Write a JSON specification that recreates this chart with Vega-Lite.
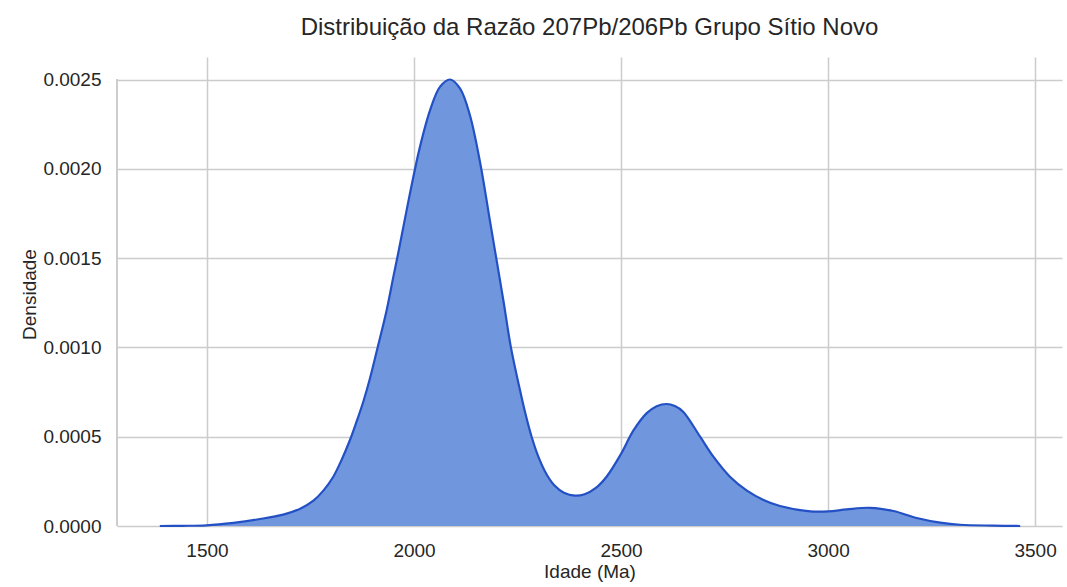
{
  "$schema": "https://vega.github.io/schema/vega-lite/v6.json",
  "autosize": "none",
  "width": 945,
  "height": 469,
  "padding": {"left": 117, "top": 57, "right": 5, "bottom": 61},
  "background": "white",
  "title": {
    "text": "Distribuição da Razão 207Pb/206Pb Grupo Sítio Novo",
    "font": "Liberation Sans",
    "fontSize": 24,
    "fontWeight": "normal",
    "color": "#262626",
    "anchor": "middle",
    "baseline": "alphabetic",
    "offset": -2
  },
  "data": {
    "values": [
      {"idade": 1386, "dens": 0},
      {"idade": 1440, "dens": 0.000001},
      {"idade": 1499, "dens": 0.000004},
      {"idade": 1564, "dens": 0.000018},
      {"idade": 1628, "dens": 0.000039},
      {"idade": 1684, "dens": 0.000064},
      {"idade": 1725, "dens": 0.000097},
      {"idade": 1757, "dens": 0.000142},
      {"idade": 1781, "dens": 0.000198},
      {"idade": 1805, "dens": 0.000276},
      {"idade": 1825, "dens": 0.00037},
      {"idade": 1845, "dens": 0.00048},
      {"idade": 1862, "dens": 0.00059},
      {"idade": 1878, "dens": 0.0007},
      {"idade": 1894, "dens": 0.00083},
      {"idade": 1910, "dens": 0.00098},
      {"idade": 1934, "dens": 0.00121},
      {"idade": 1950, "dens": 0.001395},
      {"idade": 1962, "dens": 0.00153},
      {"idade": 1990, "dens": 0.00186},
      {"idade": 2014, "dens": 0.00212},
      {"idade": 2039, "dens": 0.00233},
      {"idade": 2063, "dens": 0.00246},
      {"idade": 2087, "dens": 0.0025},
      {"idade": 2111, "dens": 0.00245},
      {"idade": 2135, "dens": 0.0023},
      {"idade": 2160, "dens": 0.00203},
      {"idade": 2184, "dens": 0.0017},
      {"idade": 2200, "dens": 0.00148},
      {"idade": 2216, "dens": 0.00126},
      {"idade": 2234, "dens": 0.001},
      {"idade": 2256, "dens": 0.00076},
      {"idade": 2270, "dens": 0.00062},
      {"idade": 2284, "dens": 0.0005},
      {"idade": 2300, "dens": 0.00039},
      {"idade": 2320, "dens": 0.00029},
      {"idade": 2340, "dens": 0.000225},
      {"idade": 2362, "dens": 0.000186},
      {"idade": 2389, "dens": 0.00017},
      {"idade": 2412, "dens": 0.000178},
      {"idade": 2440, "dens": 0.000215},
      {"idade": 2465, "dens": 0.000276},
      {"idade": 2499, "dens": 0.0004},
      {"idade": 2530, "dens": 0.000535},
      {"idade": 2562, "dens": 0.000632},
      {"idade": 2586, "dens": 0.000671},
      {"idade": 2610, "dens": 0.000683},
      {"idade": 2630, "dens": 0.000672},
      {"idade": 2650, "dens": 0.00064},
      {"idade": 2691, "dens": 0.0005},
      {"idade": 2723, "dens": 0.000388},
      {"idade": 2763, "dens": 0.000276},
      {"idade": 2804, "dens": 0.000198},
      {"idade": 2844, "dens": 0.000146},
      {"idade": 2884, "dens": 0.000112},
      {"idade": 2957, "dens": 0.000082},
      {"idade": 3001, "dens": 0.000082},
      {"idade": 3045, "dens": 0.000093},
      {"idade": 3101, "dens": 0.000102},
      {"idade": 3158, "dens": 0.000084},
      {"idade": 3214, "dens": 0.000045},
      {"idade": 3271, "dens": 0.000019},
      {"idade": 3319, "dens": 0.000007},
      {"idade": 3399, "dens": 0.000002},
      {"idade": 3464, "dens": 0}
    ]
  },
  "encoding": {
    "x": {
      "field": "idade",
      "type": "quantitative",
      "scale": {"domain": [1282.6, 3565], "nice": false, "zero": false},
      "axis": {
        "title": "Idade (Ma)",
        "values": [1500, 2000, 2500, 3000, 3500],
        "format": "d",
        "ticks": false,
        "tickSize": 0,
        "domain": false,
        "labelPadding": 15,
        "labelFont": "Liberation Sans",
        "labelFontSize": 19,
        "labelColor": "#262626",
        "titleFont": "Liberation Sans",
        "titleFontSize": 19,
        "titleFontWeight": "normal",
        "titleColor": "#262626",
        "titleBaseline": "alphabetic",
        "titleY": 51,
        "gridColor": "#cccccc",
        "gridWidth": 1.5
      }
    },
    "y": {
      "field": "dens",
      "type": "quantitative",
      "scale": {"domain": [0, 0.002626], "nice": false, "zero": false},
      "axis": {
        "title": "Densidade",
        "values": [0, 0.0005, 0.001, 0.0015, 0.002, 0.0025],
        "format": ".4f",
        "ticks": false,
        "tickSize": 0,
        "domain": false,
        "labelPadding": 16,
        "labelFont": "Liberation Sans",
        "labelFontSize": 19,
        "labelColor": "#262626",
        "titleFont": "Liberation Sans",
        "titleFontSize": 19,
        "titleFontWeight": "normal",
        "titleColor": "#262626",
        "titleBaseline": "alphabetic",
        "titleX": -82,
        "titleY": 237,
        "gridColor": "#cccccc",
        "gridWidth": 1.5
      }
    }
  },
  "layer": [
    {
      "mark": {"type": "rule", "color": "#cccccc", "strokeWidth": 1.5},
      "encoding": {
        "x": {"datum": 1282.6, "type": "quantitative"},
        "y": {"datum": 0, "type": "quantitative"},
        "y2": {"datum": 0.0025}
      }
    },
    {
      "mark": {"type": "area", "color": "#7096de", "opacity": 1, "interpolate": "catmull-rom"}
    },
    {
      "mark": {"type": "line", "color": "#2350c4", "strokeWidth": 2.2, "interpolate": "catmull-rom"}
    }
  ],
  "config": {
    "view": {"stroke": null}
  }
}
